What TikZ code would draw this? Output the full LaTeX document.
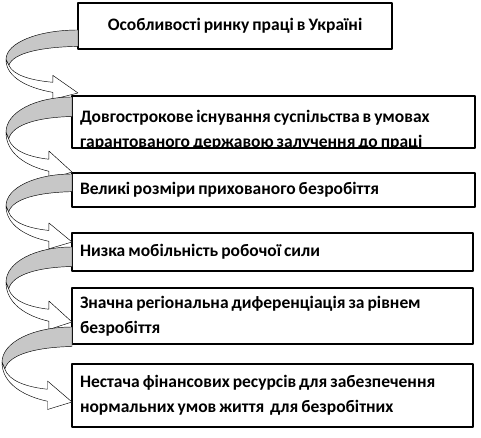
\documentclass[tikz,border=0pt]{standalone}
\usepackage{fontspec}
\setmainfont{Carlito}[WordSpace=0.75]
\usetikzlibrary{calc}

\begin{document}
\begin{tikzpicture}[x=1pt,y=-1pt,line join=round]
    \tikzset{
        item/.style={
            draw,line width=1.1pt,anchor=north west,
            inner xsep=8pt,inner ysep=0pt,outer sep=0pt,
            font=\bfseries\fontsize{17.5}{24.5}\selectfont
        },
        title/.style={item,align=center,minimum width=314pt,minimum height=46pt},
        wide/.style={item,align=flush left,text width=387pt,minimum height=#1},
        narrow/.style={item,align=flush left,text width=385pt,minimum height=#1},
        ribbon/.style={draw,line width=0.45pt,fill=black!22},
        face/.style={draw,line width=0.45pt,fill=white},
        turn/.pic={
            \path[ribbon] (0,0) .. controls (0.55,0) and (1,0.2) .. (1,0.47)
                -- (0.96,0.56) .. controls (0.9,0.36) and (0.5,0.27) .. (0,0.26)
                -- cycle;
            \path[face] (1,0.47) .. controls (1,0.75) and (0.7,0.92) .. (0.35,0.99)
                -- (0.35,1.1) -- (0,1) -- (0.35,0.72) -- (0.35,0.83)
                .. controls (0.65,0.8) and (0.9,0.72) .. (0.96,0.56) -- cycle;
        }
    }
    \useasboundingbox (0,0) rectangle (481,438);

    % boxes
    \node[title] (b1) at (78,3) {Особливості ринку праці в Україні};
    \node[item,minimum width=403pt,minimum height=52pt,
        path picture={
            \node[anchor=north west,inner sep=0pt,align=flush left,
                minimum width=0pt,minimum height=0pt,
                font=\bfseries\fontsize{17.5}{25}\selectfont]
                (b2-text) at ([xshift=8pt,yshift=-14pt]path picture bounding box.north west)
                {Довгострокове існування суспільства в умовах\\
                 гарантованого державою залучення до праці};
        }] (b2) at (72,96) {};
    \node[wide=34pt] (b3) at (72,173) {Великі розміри прихованого безробіття};
    \node[narrow=38pt] (b4) at (72,233) {Низка мобільність робочої сили};
    \node[narrow=56pt] (b5) at (72,288)
        {Значна регіональна диференціація за рівнем\\безробіття};
    \node[narrow=63pt] (b6) at (72,364)
        {Нестача фінансових ресурсів для забезпечення\\
         нормальних умов життя~ для безробітних};

    % curved arrows
    \coordinate (s1) at ($(b1.north west)+(0,27)$);
    \coordinate (s2) at ($(b2.north west)+(0,1)$);
    \coordinate (s3) at ($(b3.north west)+(0,1)$);
    \coordinate (s4) at ($(b4.north west)+(0,14)$);
    \coordinate (s5) at ($(b5.north west)+(0,39)$);

    \begin{scope}[shift={(s1)},x={(-72pt,0pt)},y={(0pt,-63pt)}]
        \pic {turn};
    \end{scope}
    \begin{scope}[shift={(s2)},x={(-66pt,0pt)},y={(0pt,-75pt)}]
        \pic {turn};
    \end{scope}
    \begin{scope}[shift={(s3)},x={(-66pt,0pt)},y={(0pt,-68pt)}]
        \pic {turn};
    \end{scope}
    \begin{scope}[shift={(s4)},x={(-66pt,0pt)},y={(0pt,-75pt)}]
        \pic {turn};
    \end{scope}
    \begin{scope}[shift={(s5)},x={(-70pt,0pt)},y={(0pt,-75pt)}]
        \pic {turn};
    \end{scope}
\end{tikzpicture}
\end{document}
